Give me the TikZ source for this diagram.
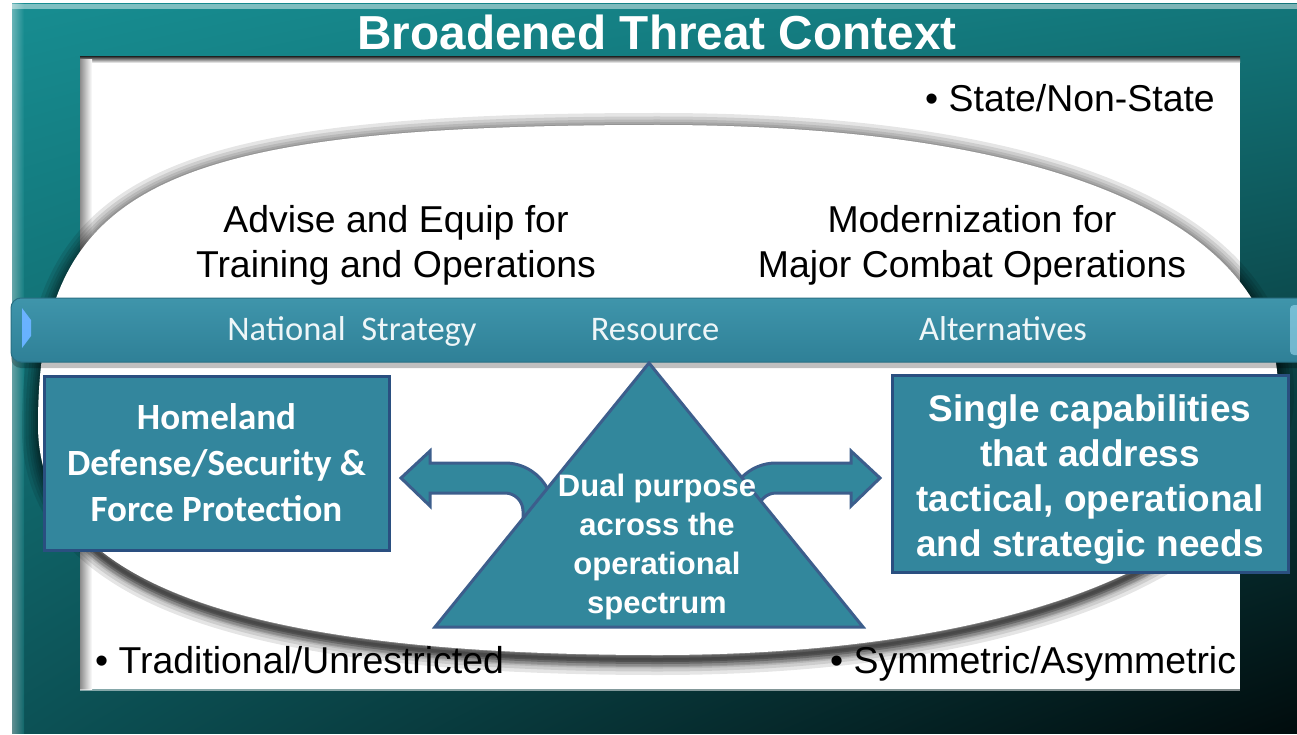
\documentclass[tikz,border=0pt]{standalone}
\usepackage{fontspec}
\setmainfont{Liberation Sans}
\newfontfamily\calibri{Carlito}
\usetikzlibrary{shadings}
\definecolor{frUL}{HTML}{178D91}
\definecolor{frUR}{HTML}{13767A}
\definecolor{frLL}{HTML}{0C5256}
\definecolor{frLR}{HTML}{010C0D}
\definecolor{boxfill}{HTML}{33869D}
\definecolor{boxline}{HTML}{2A4F80}
\definecolor{trifill}{HTML}{32879C}
\definecolor{triline}{HTML}{3C5E8C}
\definecolor{barTop}{HTML}{3F95AB}
\definecolor{barBot}{HTML}{2F8097}
\definecolor{barline}{HTML}{2A7084}
\definecolor{bartext}{HTML}{EEF6F8}
\begin{document}
\begin{tikzpicture}[x=1pt,y=-1pt,
  bluebox/.style={draw=boxline, line width=3pt, fill=boxfill, text=white, align=center, inner sep=0pt},
  bartxt/.style={anchor=base, inner sep=0pt, text=bartext, font=\calibri\fontsize{34.5}{40}\selectfont},
  blacktxt/.style={inner sep=0pt, text=black, align=center, font=\fontsize{37.4}{45}\selectfont},
  blockarrow/.style={fill=trifill, draw=triline, line width=3pt, line join=miter}]
\useasboundingbox (0,0) rectangle (1297,735);
\fill[white] (0,0) rectangle (1297,735);
% frame
\shade[upper left=frUL, upper right=frUR, lower left=frLL, lower right=frLR] (12,4) rectangle (1297,733);
\shade[left color=white, right color=frUL, opacity=0.35] (12,4) rectangle (24,733);
\fill[white, opacity=0.45] (12,4) rectangle (1297,9);
% inner white area
\fill[white] (80,57) rectangle (1240,689);
\shade[top color=black!75, bottom color=white] (80,57) rectangle (1240,63);
\shade[left color=black!45, right color=white] (80,60) rectangle (92,689);
\fill[white, opacity=0.5] (80,689) rectangle (1240,691);
% oval with soft shadow
\begin{scope}[yshift=-4pt]
\foreach \w in {32,25,19,14,10,6,3}{
  \draw[black, opacity=0.1, line width=\w pt] (38,425) .. controls (38,185) and (162,125) .. (658,125) .. controls (1060,125) and (1278,225) .. (1278,390) .. controls (1278,549) and (1030,655) .. (658,655) .. controls (236,655) and (38,581) .. cycle;}
\end{scope}
\begin{scope}
\clip (0,520) rectangle (1297,735);
\begin{scope}[yshift=-5pt]
\foreach \w in {14,8,4}{
  \draw[black, opacity=0.15, line width=\w pt] (38,425) .. controls (38,185) and (162,125) .. (658,125) .. controls (1060,125) and (1278,225) .. (1278,390) .. controls (1278,549) and (1030,655) .. (658,655) .. controls (236,655) and (38,581) .. cycle;}
\end{scope}
\end{scope}
\fill[white] (38,425) .. controls (38,185) and (162,125) .. (658,125) .. controls (1060,125) and (1278,225) .. (1278,390) .. controls (1278,549) and (1030,655) .. (658,655) .. controls (236,655) and (38,581) .. cycle;
% title and outer texts
\node[anchor=base, inner sep=0pt, text=white, font=\bfseries\fontsize{47.7}{52}\selectfont] (title) at (657,50) {Broadened Threat Context};
\node[blacktxt, anchor=base west] (state) at (925,112) {• State/Non-State};
\node[blacktxt] (advise) at (396,245) {Advise and Equip for\\Training and Operations};
\node[blacktxt] (modern) at (972,245) {Modernization for\\Major Combat Operations};
\node[blacktxt, anchor=base west] (trad) at (95,673) {• Traditional/Unrestricted};
\node[blacktxt, anchor=base west] (sym) at (830,673) {• Symmetric/Asymmetric};
% banner bar
\fill[black, opacity=0.25, rounded corners=10pt] (11,302) rectangle (1310,368);
\shade[top color=barTop, bottom color=barBot, draw=barline, line width=1pt, rounded corners=10pt] (11,298) rectangle (1310,362);
\shade[top color=white!60!cyan!70!blue, bottom color=cyan!50!blue!60!white] (22,308) -- (31,320) -- (31,336) -- (22,348) -- cycle;
\fill[cyan!35!white, opacity=0.55, rounded corners=4pt] (1290,305) rectangle (1302,355);
\node[bartxt] (natl) at (352,340) {National\hspace{0.45em}Strategy};
\node[bartxt] (res) at (655,340) {Resource};
\node[bartxt] (alt) at (1003,340) {Alternatives};
% block arrows (behind the triangle)
\coordinate (ltip) at (401,478);
\coordinate (rtip) at (880,478);
\draw[blockarrow] (ltip) -- (430,451) -- (430,463) -- (505,463) .. controls (531.5,463) and (553,484.5) .. (553,511) -- (553,545) -- (523,545) -- (523,511) .. controls (523,501.1) and (514.9,493) .. (505,493) -- (430,493) -- (430,506) -- cycle;
\draw[blockarrow] (rtip) -- (851,451) -- (851,463) -- (776,463) .. controls (749.5,463) and (728,484.5) .. (728,511) -- (728,545) -- (758,545) -- (758,511) .. controls (758,501.1) and (766.1,493) .. (776,493) -- (851,493) -- (851,506) -- cycle;
% triangle
\coordinate (apex) at (649,363);
\coordinate (bl) at (435,627);
\coordinate (br) at (863,627);
\draw[fill=trifill, draw=triline, line width=3pt, line join=miter] (apex) -- (br) -- (bl) -- cycle;
\node[inner sep=0pt, text=white, align=center, font=\bfseries\fontsize{31}{39}\selectfont] (dual) at (657,546.5) {Dual purpose\\across the\\operational\\spectrum};
% boxes
\node[bluebox, minimum width=345pt, minimum height=174pt, font=\calibri\bfseries\fontsize{37}{46}\selectfont] (home) at (216.5,463) {Homeland\\Defense/Security \&\\Force Protection};
\node[bluebox, minimum width=396pt, minimum height=197pt] (single) at (1090,473.5) {};
\node[inner sep=0pt, text=white, align=center, font=\bfseries\fontsize{37}{45}\selectfont] (singletxt) at (single.center) [yshift=-6pt] {Single capabilities\\that address\\tactical, operational\\and strategic needs};
\end{tikzpicture}
\end{document}
